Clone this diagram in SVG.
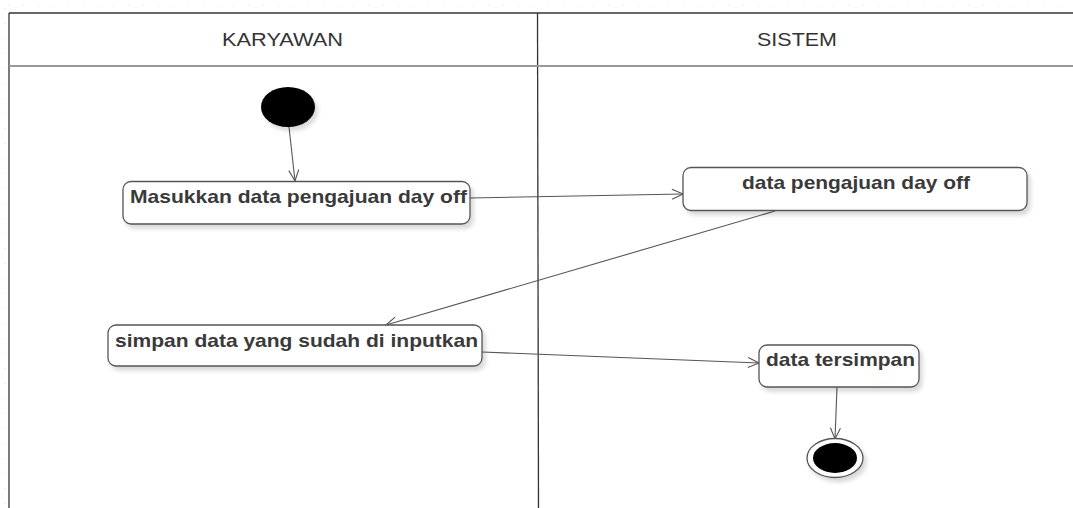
<svg xmlns="http://www.w3.org/2000/svg" width="1073" height="508" viewBox="0 0 1073 508">
<style>
.lane{fill:none;stroke:#333;stroke-width:1.3}
.hdr{stroke:#999;stroke-width:2}
.grid{stroke:#ddd;stroke-width:1;stroke-dasharray:1 14}
.box{fill:#fff;stroke:#555;stroke-width:1.3;filter:url(#sh)}
.lbl{font-family:"Liberation Sans",Arial,sans-serif;font-weight:bold;font-size:18.5px;fill:#3a3a3a}
.ht{font-family:"Liberation Sans",Arial,sans-serif;font-size:18px;fill:#333}
.con{fill:none;stroke:#555;stroke-width:1.1;marker-end:url(#arr)}
</style>
<defs>
<filter id="sh" x="-10%" y="-20%" width="130%" height="160%">
<feDropShadow dx="3" dy="4" stdDeviation="2" flood-color="#000" flood-opacity="0.15"/>
</filter>
<marker id="arr" markerWidth="14" markerHeight="12" refX="12" refY="6" orient="auto" markerUnits="userSpaceOnUse">
<path d="M1,1 L12,6 L1,11" fill="none" stroke="#555" stroke-width="1.1"/>
</marker>
</defs>
<rect width="1073" height="508" fill="#fff"/>
<line class="grid" x1="8" y1="5" x2="1073" y2="5"/>
<line class="grid" x1="5" y1="8" x2="5" y2="508"/>
<g id="lanes">
<line class="lane" x1="9" y1="13" x2="1073" y2="13"/>
<line class="lane" x1="9" y1="13" x2="9" y2="508"/>
<line class="lane" x1="537.5" y1="13" x2="538.5" y2="508"/>
<line class="hdr" x1="9" y1="66" x2="1073" y2="66"/>
<text class="ht" x="222" y="45.5" textLength="121" lengthAdjust="spacingAndGlyphs">KARYAWAN</text>
<text class="ht" x="757" y="45.5" textLength="80" lengthAdjust="spacingAndGlyphs">SISTEM</text>
</g>
<g id="connectors">
<line class="con" x1="289" y1="127" x2="295" y2="181"/>
<line class="con" x1="470" y1="198" x2="683" y2="194"/>
<line class="con" x1="775" y1="211" x2="386" y2="325"/>
<line class="con" x1="482" y1="352" x2="759" y2="363"/>
<line class="con" x1="837" y1="387" x2="835" y2="439"/>
</g>
<g id="start">
<ellipse cx="288" cy="107" rx="27" ry="20" fill="#000" filter="url(#sh)"/>
</g>
<g id="masukkan">
<rect class="box" x="123" y="181.5" width="347" height="42.5" rx="8"/>
<text class="lbl" x="130" y="202.5" textLength="337" lengthAdjust="spacingAndGlyphs">Masukkan data pengajuan day off</text>
</g>
<g id="data-pengajuan">
<rect class="box" x="683" y="167.5" width="344" height="43" rx="8"/>
<text class="lbl" x="742" y="188.5" textLength="228" lengthAdjust="spacingAndGlyphs">data pengajuan day off</text>
</g>
<g id="simpan">
<rect class="box" x="108" y="325" width="374" height="41" rx="8"/>
<text class="lbl" x="115" y="346.5" textLength="363" lengthAdjust="spacingAndGlyphs">simpan data yang sudah di inputkan</text>
</g>
<g id="tersimpan">
<rect class="box" x="759" y="345" width="160" height="42" rx="8"/>
<text class="lbl" x="766" y="365.5" textLength="149" lengthAdjust="spacingAndGlyphs">data tersimpan</text>
</g>
<g id="end">
<ellipse cx="835" cy="458" rx="28" ry="19.5" fill="#fff" stroke="#555" stroke-width="1.3" filter="url(#sh)"/>
<ellipse cx="835" cy="458" rx="22" ry="15" fill="#000"/>
</g>
</svg>
